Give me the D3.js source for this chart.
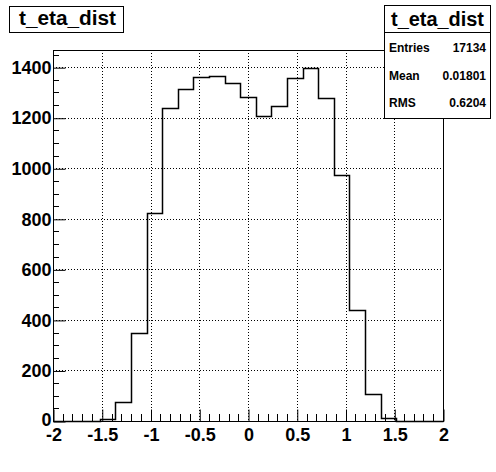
<!DOCTYPE html>
<html><head><meta charset="utf-8">
<script src="https://cdn.jsdelivr.net/npm/d3@7"></script>
<style>body{margin:0;background:#fff}svg{display:block}</style>
</head><body>
<svg id="c" width="496" height="472"></svg>
<script>
const binEdgesRange = [-2, 2];
const nBins = 25;
const counts = [0,0,0,6,74,348,822,1238,1313,1361,1366,1337,1281,1206,1246,1357,1396,1278,973,438,106,10,0,0,0];
const xMajorTicks = [-2,-1.5,-1,-0.5,0,0.5,1,1.5,2];
const xTickLabels = ["-2","-1.5","-1","-0.5","0","0.5","1","1.5","2"];
const yMajorTicks = [0,200,400,600,800,1000,1200,1400];
const yTickLabels = ["0","200","400","600","800","1000","1200","1400"];
const statsNames = ["Entries","Mean","RMS"];
const statsValues = ["17134","0.01801","0.6204"];
const histTitle = "t_eta_dist";

const svg = d3.select("#c");
const L=53,R=443,T=50,B=421;
const x = d3.scaleLinear().domain(binEdgesRange).range([L,R]);
const y = d3.scaleLinear().domain([0,1468]).range([B,T]);
const font = "'Liberation Sans', Arial, Helvetica, sans-serif";

// grid
const g = svg.append("g");
g.selectAll("line.gx").data(xMajorTicks.slice(1,-1)).join("line")
  .attr("x1",d=>Math.round(x(d))+0.5).attr("x2",d=>Math.round(x(d))+0.5)
  .attr("y1",T).attr("y2",B).attr("stroke","#000").attr("stroke-dasharray","1,2");
g.selectAll("line.gy").data(yMajorTicks.slice(1)).join("line")
  .attr("y1",d=>Math.round(y(d))+0.5).attr("y2",d=>Math.round(y(d))+0.5)
  .attr("x1",L).attr("x2",R).attr("stroke","#000").attr("stroke-dasharray","1,2");

// histogram
const bw = (binEdgesRange[1]-binEdgesRange[0])/nBins;
const pts = [[x(binEdgesRange[0]), y(0)]];
counts.forEach((c,i)=>{
  const x0 = binEdgesRange[0]+i*bw, x1 = x0+bw;
  pts.push([x(x0), y(c)]); pts.push([x(x1), y(c)]);
});
pts.push([x(binEdgesRange[1]), y(0)]);
svg.append("path").attr("d", d3.line()(pts.map(p=>[Math.round(p[0])+0.5, Math.round(p[1])+0.5])))
  .attr("fill","none").attr("stroke","#000").attr("stroke-width",1.5);

// frame
svg.append("rect").attr("x",L+0.5).attr("y",T+0.5).attr("width",R-L).attr("height",B-T)
  .attr("fill","none").attr("stroke","#000");

// y axis
const yMinor = d3.range(0,1451,50).filter(v=>v%200!==0);
svg.append("g").selectAll("line").data(yMinor).join("line")
  .attr("x1",L).attr("x2",L+6).attr("y1",d=>Math.round(y(d))+0.5).attr("y2",d=>Math.round(y(d))+0.5)
  .attr("stroke","#000");
const ya = svg.append("g").attr("transform",`translate(${L+0.5},0.5)`)
  .call(d3.axisLeft(y).tickValues(yMajorTicks).tickSize(-12).tickPadding(2)
    .tickFormat((d,i)=>yTickLabels[i]));
ya.select(".domain").remove();
ya.selectAll("line").attr("stroke","#000");
ya.selectAll("text").attr("font-family",font).attr("font-weight","bold").attr("font-size",18).attr("fill","#000");
ya.selectAll("text").filter(d=>d===0).attr("dy","0.2em");

// x axis
const xMinor = d3.range(-20,21).map(v=>v/10).filter(v=>Math.abs(v*2-Math.round(v*2))>1e-6);
svg.append("g").selectAll("line").data(xMinor).join("line")
  .attr("x1",d=>Math.round(x(d))+0.5).attr("x2",d=>Math.round(x(d))+0.5).attr("y1",B).attr("y2",B-7)
  .attr("stroke","#000");
const xa = svg.append("g").attr("transform",`translate(0.5,${B+0.5})`)
  .call(d3.axisBottom(x).tickValues(xMajorTicks).tickSize(-12).tickPadding(7)
    .tickFormat((d,i)=>xTickLabels[i]));
xa.select(".domain").remove();
xa.selectAll("line").attr("stroke","#000");
xa.selectAll("text").attr("font-family",font).attr("font-weight","bold").attr("font-size",18).attr("fill","#000");

// title box
svg.append("rect").attr("x",9.5).attr("y",6.5).attr("width",114).attr("height",26)
  .attr("fill","#fff").attr("stroke","#000");
svg.append("text").attr("x",19).attr("y",25).text(histTitle)
  .attr("font-family",font).attr("font-weight","bold").attr("font-size",20)
  .attr("textLength",97).attr("lengthAdjust","spacingAndGlyphs");

// stats box
const sx=384.5, sw=106, sy=5.5, sh=113;
svg.append("rect").attr("x",sx).attr("y",sy).attr("width",sw).attr("height",sh)
  .attr("fill","#fff").attr("stroke","#000");
svg.append("line").attr("x1",sx).attr("x2",sx+sw).attr("y1",32.5).attr("y2",32.5).attr("stroke","#000");
svg.append("text").attr("x",sx+sw/2).attr("y",26).attr("text-anchor","middle").text(histTitle)
  .attr("font-family",font).attr("font-weight","bold").attr("font-size",20)
  .attr("textLength",93).attr("lengthAdjust","spacingAndGlyphs");
const rowY = [52, 80, 107];
statsNames.forEach((n,i)=>{
  svg.append("text").attr("x",389).attr("y",rowY[i]).text(n)
    .attr("font-family",font).attr("font-weight","bold").attr("font-size",12);
  svg.append("text").attr("x",486).attr("y",rowY[i]).attr("text-anchor","end").text(statsValues[i])
    .attr("font-family",font).attr("font-weight","bold").attr("font-size",12);
});
</script>
</body></html>
